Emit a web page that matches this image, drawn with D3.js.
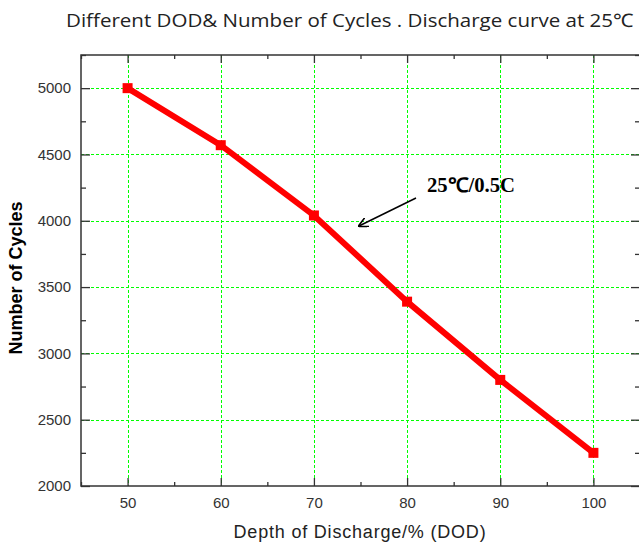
<!DOCTYPE html>
<html><head><meta charset="utf-8">
<script src="https://cdn.jsdelivr.net/npm/d3@7"></script>
<style>body{margin:0;background:#fff}svg{display:block}</style>
</head><body>
<script>
const dod = [50, 60, 70, 80, 90, 100];
const cycles = [5000, 4570, 4040, 3390, 2800, 2250];
const xTicks = [50, 60, 70, 80, 90, 100];
const yTicks = [2000, 2500, 3000, 3500, 4000, 4500, 5000];
const titleText = "Different DOD& Number of Cycles . Discharge curve at 25℃";
const xLabel = "Depth of Discharge/% (DOD)";
const yLabel = "Number of Cycles";
const annotation = "25℃/0.5C";

const W = 639, H = 545;
const m = {left: 81, top: 55, right: 640, bottom: 486};
const svg = d3.select("body").append("svg").attr("width", W).attr("height", H);

const x = d3.scaleLinear().domain([45, 105]).range([m.left, m.right]);
const y = d3.scaleLinear().domain([2000, 5250]).range([m.bottom, m.top]);

const grid = svg.append("g").attr("stroke", "#00ff00").attr("stroke-width", 1.3)
  .attr("stroke-dasharray", "3,2").attr("shape-rendering", "crispEdges");
xTicks.forEach(t => { const px = Math.round(x(t)) + 0.5;
  grid.append("line").attr("x1", px).attr("x2", px).attr("y1", m.top).attr("y2", m.bottom); });
yTicks.filter(t => t > 2000).forEach(t => { const py = Math.round(y(t)) + 0.5;
  grid.append("line").attr("y1", py).attr("y2", py).attr("x1", m.left).attr("x2", m.right); });

const axisColor = "#333";
const minorX = d3.range(45, 106, 5).filter(v => v % 10 !== 0);
const minorY = d3.range(2250, 5251, 500);

function styleAxis(g){
  g.select(".domain").remove();
  g.selectAll(".tick line").attr("stroke", axisColor).attr("stroke-width", 1.3);
  g.selectAll(".tick text").attr("fill", "#333").attr("font-family", "Liberation Sans, Arial, sans-serif").attr("font-size", 15);
}
// bottom
svg.append("g").attr("transform", `translate(0,${m.bottom})`)
  .call(d3.axisBottom(x).tickValues(xTicks).tickSizeInner(-8).tickSizeOuter(0).tickPadding(11).tickFormat(d3.format("d")))
  .call(styleAxis);
svg.append("g").attr("transform", `translate(0,${m.bottom})`)
  .call(d3.axisBottom(x).tickValues(minorX).tickSizeInner(-4).tickSizeOuter(0).tickFormat(""))
  .call(styleAxis);
// top
svg.append("g").attr("transform", `translate(0,${m.top})`)
  .call(d3.axisTop(x).tickValues(xTicks).tickSizeInner(-8).tickSizeOuter(0).tickFormat(""))
  .call(styleAxis);
svg.append("g").attr("transform", `translate(0,${m.top})`)
  .call(d3.axisTop(x).tickValues(minorX).tickSizeInner(-4).tickSizeOuter(0).tickFormat(""))
  .call(styleAxis);
// left
svg.append("g").attr("transform", `translate(${m.left},0)`)
  .call(d3.axisLeft(y).tickValues(yTicks).tickSizeInner(-9).tickSizeOuter(0).tickPadding(10).tickFormat(d3.format("d")))
  .call(styleAxis);
svg.append("g").attr("transform", `translate(${m.left},0)`)
  .call(d3.axisLeft(y).tickValues(minorY).tickSizeInner(-5).tickSizeOuter(0).tickFormat(""))
  .call(styleAxis);
// right
svg.append("g").attr("transform", `translate(${m.right},0)`)
  .call(d3.axisRight(y).tickValues(yTicks).tickSizeInner(-9).tickSizeOuter(0).tickFormat(""))
  .call(styleAxis);
svg.append("g").attr("transform", `translate(${m.right},0)`)
  .call(d3.axisRight(y).tickValues(minorY).tickSizeInner(-5).tickSizeOuter(0).tickFormat(""))
  .call(styleAxis);

svg.append("rect").attr("x", m.left).attr("y", m.top).attr("width", m.right - m.left).attr("height", m.bottom - m.top)
  .attr("fill", "none").attr("stroke", axisColor).attr("stroke-width", 1.5);

// data line
const pts = dod.map((d, i) => [d, cycles[i]]);
svg.append("path").datum(pts)
  .attr("d", d3.line().x(d => x(d[0])).y(d => y(d[1])))
  .attr("fill", "none").attr("stroke", "#ff0000").attr("stroke-width", 6);
svg.append("g").selectAll("rect").data(pts).join("rect")
  .attr("x", d => x(d[0]) - 5).attr("y", d => y(d[1]) - 5)
  .attr("width", 10).attr("height", 10).attr("fill", "#ff0000");

// annotation
svg.append("defs").append("marker").attr("id", "ah").attr("viewBox", "0 0 10 10")
  .attr("refX", 9).attr("refY", 5).attr("markerWidth", 10).attr("markerHeight", 10)
  .attr("markerUnits", "userSpaceOnUse").attr("orient", "auto")
  .append("path").attr("d", "M0,0 L10,5 L0,10").attr("fill", "none").attr("stroke", "#000").attr("stroke-width", 1.6);
svg.append("line").attr("x1", 416).attr("y1", 198).attr("x2", 359).attr("y2", 226)
  .attr("stroke", "#000").attr("stroke-width", 1.5).attr("marker-end", "url(#ah)");
svg.append("text").attr("x", 427).attr("y", 192).text(annotation)
  .attr("font-family", "Liberation Serif, Times New Roman, serif").attr("font-weight", "bold").attr("font-size", 20).attr("fill", "#000")
  .attr("textLength", 88).attr("lengthAdjust", "spacingAndGlyphs");

// titles
svg.append("text").attr("x", 66).attr("y", 27).text(titleText)
  .attr("font-family", "Open Sans, sans-serif").attr("font-size", 18.5).attr("fill", "#222")
  .attr("textLength", 567).attr("lengthAdjust", "spacingAndGlyphs");
svg.append("text").attr("x", 360).attr("y", 538).attr("text-anchor", "middle").text(xLabel)
  .attr("font-family", "Liberation Sans, Arial, sans-serif").attr("font-size", 18).attr("fill", "#222")
  .attr("letter-spacing", 0.8);
svg.append("text").attr("transform", "translate(22,278) rotate(-90)").attr("text-anchor", "middle").text(yLabel)
  .attr("font-family", "Liberation Sans, Arial, sans-serif").attr("font-weight", "bold").attr("font-size", 18).attr("fill", "#000");
</script>
</body></html>
